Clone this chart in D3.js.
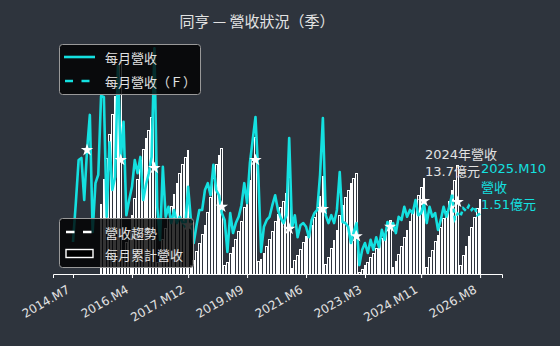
<!DOCTYPE html>
<html><head><meta charset="utf-8">
<script src="https://cdn.jsdelivr.net/npm/d3@7"></script>
<style>html,body{margin:0;padding:0;background:#2e343d;} svg{display:block;}
text{text-spacing-trim:space-all;font-kerning:none;}
.fw{font-feature-settings:"chws" 0,"halt" 0,"palt" 0,"fwid" 1;}</style>
</head><body><svg id="c" width="560" height="346"></svg>
<script>
// ---------- DATA (億元) ----------
const startYear = 2014, startMonth = 7;            // first month of the monthly series
const tickLabels = ["2014.M7","2016.M4","2017.M12","2019.M9","2021.M6","2023.M3","2024.M11","2026.M8"];

// monthly revenue (actual)
const rev2014 = [0.61, 1.35, 2.17, 2.21, 1.41, 2.36];                               // M7-M12
const rev2015 = [3.03, 0.80, 1.73, 1.89, 3.39, 3.37, 1.09, 2.51, 1.60, 1.85, 3.96, 2.17];
const rev2016 = [2.90, 1.12, 1.41, 1.66, 2.17, 1.92, 2.23, 1.41, 1.70, 1.92, 2.23, 4.30];
const rev2017 = [1.28, 0.65, 2.04, 1.09, 1.28, 0.97, 1.22, 0.97, 1.09, 0.99, 0.90, 1.66];
const rev2018 = [1.03, 0.59, 0.93, 1.22, 1.22, 1.60, 1.73, 1.50, 2.08, 1.60, 1.50, 1.16];
const rev2019 = [1.03, 0.42, 1.16, 0.78, 0.97, 1.09, 1.31, 1.73, 1.35, 2.11, 2.55, 2.99];
const rev2020 = [1.89, 0.42, 0.90, 1.03, 1.09, 1.31, 1.50, 1.22, 1.07, 0.97, 1.12, 2.59];
const rev2021 = [0.88, 1.12, 0.70, 0.93, 0.97, 0.90, 0.70, 1.03, 1.16, 1.22, 1.89, 2.97];
const rev2022 = [1.12, 0.97, 1.12, 0.97, 1.22, 1.94, 0.99, 0.97, 0.90, 0.59, 0.80, 0.97];
const rev2023 = [0.17, 0.46, 0.59, 0.40, 0.65, 0.46, 0.70, 0.51, 0.84, 0.65, 0.99, 0.90];
const rev2024 = [0.97, 0.78, 1.09, 1.03, 1.28, 1.09, 1.22, 1.16, 1.41, 1.12, 1.16, 1.35];
const rev2025 = [0.97, 1.28, 1.09, 1.16, 0.84, 1.03, 1.28, 1.09, 1.28, 1.51];       // M1-M10
// monthly revenue (forecast)
const fc2025 = [1.05, 1.15];                                                       // M11-M12
const fc2026 = [1.10, 1.25, 1.20, 1.30, 1.22, 1.28, 1.12, 1.15];                   // M1-M8

// monthly cumulative revenue (bars)
const cum2015 = [10.0, 13.5, 16.5, 20.0, 22.8, 25.4, 29.0, 30.3];                  // M5-M12
const cum2016 = [3.0, 4.5, 6.2, 8.3, 10.8, 13.5, 16.2, 17.8, 19.3, 20.5, 22.4, 26.0];
const cum2017 = [1.6, 3.0, 5.0, 6.5, 8.0, 9.6, 11.4, 13.0, 14.4, 15.6, 16.6, 17.6];
const cum2018 = [1.2, 2.0, 3.2, 4.4, 5.6, 7.0, 8.8, 11.0, 13.6, 15.6, 16.9, 17.9];
const cum2019 = [1.15, 1.62, 2.91, 3.78, 4.86, 6.08, 7.54, 9.47, 10.97, 13.32, 16.17, 19.5];
const cum2020 = [1.73, 2.11, 2.93, 3.87, 4.87, 6.06, 7.43, 8.55, 9.52, 10.41, 11.43, 13.8];
const cum2021 = [0.85, 1.93, 2.61, 3.51, 4.45, 5.32, 6.0, 6.99, 8.11, 9.29, 11.12, 14.0];
const cum2022 = [1.3, 2.4, 3.7, 4.8, 6.2, 8.4, 9.8, 10.9, 12.0, 12.9, 13.6, 14.3];
const cum2023 = [0.18, 0.66, 1.28, 1.70, 2.38, 2.87, 3.60, 4.14, 5.02, 5.70, 6.74, 7.7];
const cum2024 = [0.97, 1.75, 2.84, 3.87, 5.15, 6.24, 7.46, 8.62, 10.03, 11.15, 12.31, 13.7];
const cum2025 = [1.0, 2.3, 3.4, 4.6, 5.5, 6.6, 7.9, 9.0, 10.4, 11.9, 13.4, 15.5];
const cum2026 = [1.2, 2.6, 3.9, 5.3, 6.7, 8.1, 9.3, 10.6];                         // M1-M8

// December markers
const starYears  = [2014, 2015, 2016, 2017, 2018, 2019, 2020, 2021, 2022, 2023, 2024, 2025];
const starValues = [2.36, 2.17, 2.02, 0.93, 1.28, 2.17, 0.86, 1.24, 0.72, 0.90, 1.39, 1.37];

// ---------- BUILD ----------
const idx = (y, m) => (y - startYear) * 12 + (m - startMonth);
const labelIdx = l => { const [y, m] = l.split(".M").map(Number); return idx(y, m); };
function series(list) {
  const out = [];
  list.forEach(([y, m0, arr]) => arr.forEach((v, i) => out.push({ m: idx(y, m0 + i), v })));
  return out;
}
const actual = series([[2014,7,rev2014],[2015,1,rev2015],[2016,1,rev2016],[2017,1,rev2017],[2018,1,rev2018],
  [2019,1,rev2019],[2020,1,rev2020],[2021,1,rev2021],[2022,1,rev2022],[2023,1,rev2023],[2024,1,rev2024],[2025,1,rev2025]]);
const forecast = [actual[actual.length - 1]].concat(series([[2025,11,fc2025],[2026,1,fc2026]]));
const cumul = series([[2015,5,cum2015],[2016,1,cum2016],[2017,1,cum2017],[2018,1,cum2018],[2019,1,cum2019],
  [2020,1,cum2020],[2021,1,cum2021],[2022,1,cum2022],[2023,1,cum2023],[2024,1,cum2024],[2025,1,cum2025],[2026,1,cum2026]]);
const stars = starYears.map((y, i) => ({ m: idx(y, 12), v: starValues[i] }));

// ---------- DRAW ----------
const BG = "#2e343d", CYAN = "#14e0e0", TXT = "#e2e2e2";
const FONT = "'DejaVu Sans','Noto Sans CJK TC',sans-serif";
const CJK = "'Noto Sans CJK TC','Noto Sans CJK JP',sans-serif";
const svg = d3.select("#c");
svg.append("rect").attr("width", 560).attr("height", 346).attr("fill", BG);

const baseY = 274;
const x = d3.scaleLinear().domain([-7.125, 152.8]).range([53, 502]);
const yLine = d3.scaleLinear().domain([0, 4.5]).range([baseY, 37.75]);
const yBar = d3.scaleLinear().domain([0, 33.75]).range([baseY, 37.75]);
const step = x(1) - x(0), bw = step * 0.62;

svg.append("g").attr("shape-rendering", "crispEdges").selectAll("rect").data(cumul).join("rect")
  .attr("x", d => x(d.m) - bw / 2).attr("y", d => yBar(d.v))
  .attr("width", bw).attr("height", d => baseY - yBar(d.v))
  .attr("fill", BG).attr("stroke", "#ffffff").attr("stroke-width", 1);

const line = d3.line().x(d => x(d.m)).y(d => yLine(d.v));
svg.append("path").datum(actual).attr("d", line).attr("fill", "none")
  .attr("stroke", CYAN).attr("stroke-width", 2.6).attr("stroke-linejoin", "round");
svg.append("path").datum(forecast).attr("d", line).attr("fill", "none")
  .attr("stroke", CYAN).attr("stroke-width", 2.6).attr("stroke-dasharray", "4,3");

svg.append("g").selectAll("path").data(stars).join("path")
  .attr("d", d3.symbol().type(d3.symbolStar).size(48))
  .attr("transform", d => `translate(${x(d.m)},${yLine(d.v)})`)
  .attr("fill", "#ffffff");

// axis
const ax = svg.append("g").attr("transform", `translate(0,${baseY})`)
  .call(d3.axisBottom(x).tickValues(tickLabels.map(labelIdx)).tickFormat((d, i) => tickLabels[i])
    .tickSizeOuter(0).tickSize(4));
ax.select(".domain").attr("stroke", "#ffffff");
ax.selectAll(".tick line").attr("stroke", "#ffffff");
ax.selectAll(".tick text").attr("fill", TXT).attr("font-family", FONT).attr("font-size", 12)
  .attr("x", 0).attr("y", 0).attr("dy", 0).attr("text-anchor", "end")
  .attr("transform", "translate(-3,18) rotate(-30)");

// title
const title = svg.append("text").attr("x", 257).attr("y", 27).attr("text-anchor", "middle")
  .attr("fill", TXT).attr("font-family", CJK).attr("font-size", 15);
title.append("tspan").text("同亨 — 營收狀況");
title.append("tspan").attr("class", "fw").text("（季）");

// legend 1
const lg1 = svg.append("g");
lg1.append("rect").attr("x", 59.5).attr("y", 44.5).attr("width", 141).attr("height", 50).attr("rx", 3)
  .attr("fill", "#000").attr("fill-opacity", 0.8).attr("stroke", "#999").attr("stroke-width", 1);
lg1.append("line").attr("x1", 64).attr("x2", 95).attr("y1", 57).attr("y2", 57).attr("stroke", CYAN).attr("stroke-width", 2.6);
lg1.append("line").attr("x1", 65).attr("x2", 95).attr("y1", 81).attr("y2", 81).attr("stroke", CYAN).attr("stroke-width", 2.6).attr("stroke-dasharray", "8,8.5");
lg1.append("text").attr("x", 105).attr("y", 57).attr("dominant-baseline", "central").attr("fill", TXT)
  .attr("font-family", CJK).attr("font-size", 13).text("每月營收");
lg1.append("text").attr("class", "fw").attr("x", 105).attr("y", 81).attr("dominant-baseline", "central").attr("fill", TXT)
  .attr("font-family", CJK).attr("font-size", 13).text("每月營收（F）");

// legend 2
const lg2 = svg.append("g");
lg2.append("rect").attr("x", 59.5).attr("y", 218.5).attr("width", 134).attr("height", 49).attr("rx", 3)
  .attr("fill", "#000").attr("fill-opacity", 0.8).attr("stroke", "#999").attr("stroke-width", 1);
lg2.append("line").attr("x1", 66).attr("x2", 94).attr("y1", 232).attr("y2", 232).attr("stroke", "#fff").attr("stroke-width", 2.6).attr("stroke-dasharray", "8.5,8.5");
lg2.append("rect").attr("x", 66).attr("y", 249.5).attr("width", 27).attr("height", 8)
  .attr("fill", "#000").attr("stroke", "#fff").attr("stroke-width", 1.4);
lg2.append("text").attr("x", 105).attr("y", 232).attr("dominant-baseline", "central").attr("fill", TXT)
  .attr("font-family", CJK).attr("font-size", 13).text("營收趨勢");
lg2.append("text").attr("x", 105).attr("y", 254).attr("dominant-baseline", "central").attr("fill", TXT)
  .attr("font-family", CJK).attr("font-size", 13).text("每月累計營收");

// annotations
const total2024 = cum2024[cum2024.length - 1];
svg.append("text").attr("x", 425).attr("y", 159).attr("fill", TXT).attr("font-family", FONT).attr("font-size", 13).text("2024年營收");
svg.append("text").attr("x", 425).attr("y", 176).attr("fill", TXT).attr("font-family", FONT).attr("font-size", 13).text(total2024.toFixed(1) + "億元");
const last = rev2025[rev2025.length - 1];
svg.append("text").attr("x", 481).attr("y", 173).attr("fill", CYAN).attr("font-family", FONT).attr("font-size", 13).text("2025.M" + rev2025.length);
svg.append("text").attr("x", 481).attr("y", 192).attr("fill", CYAN).attr("font-family", FONT).attr("font-size", 13).text("營收");
svg.append("text").attr("x", 481).attr("y", 209).attr("fill", CYAN).attr("font-family", FONT).attr("font-size", 13).text(last.toFixed(2) + "億元");
</script></body></html>
